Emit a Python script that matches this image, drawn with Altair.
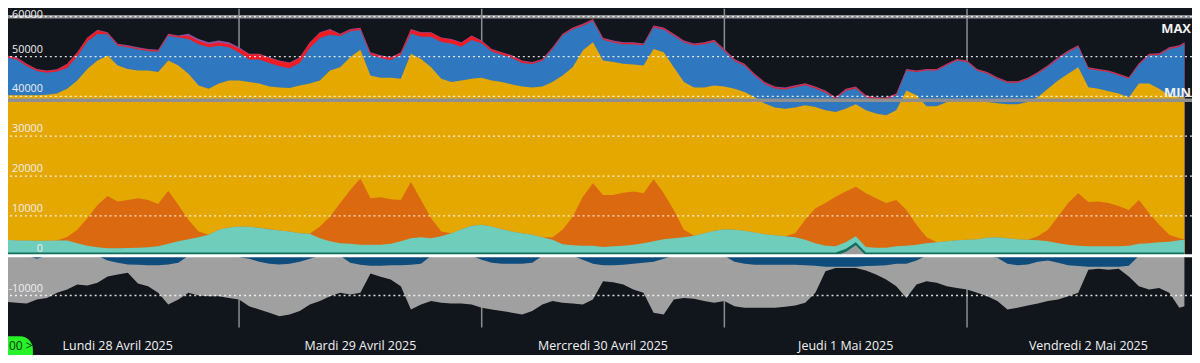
import altair as alt
import pandas as pd

# ---------------- data (MW), hourly from 28 Apr 01:00 to 2 May 21:00, plus 21:30 ----------------
times = [t.strftime("%Y-%m-%dT%H:%M:%S") for t in
         pd.date_range("2025-04-28 01:00", "2025-05-02 21:00", freq="h")] + ["2025-05-02T21:30:00"]

# overall top of the positive stack
top = [50300, 49800, 48200, 46900, 46500, 46800, 48200, 51100, 54800, 56700, 56100, 53200, 52800, 52300, 51900,
       51700, 55700, 55300, 55700, 54400, 53600, 54000, 53600, 52300, 50700, 50700, 49800, 49000, 48500,
       49800, 53600, 56100, 56900, 55700, 56900, 57200, 51100, 50300, 49800, 51100, 56900, 56100, 56100, 54800,
       54400, 53600, 55300, 54000, 51900, 51100, 50300, 49000, 48600, 49400, 52300, 55700, 57300, 58200, 59400,
       54700, 54000, 53600, 53600, 53300, 57800, 57300, 55700, 54000, 53300, 53600, 54200, 51900, 49400, 48200,
       45700, 43600, 42500, 42200, 42800, 43300, 42500, 41500, 39800, 41900, 42500, 40300, 39800, 39700, 40700,
       46900, 46500, 46900, 46900, 48200, 49400, 49000, 46900, 46100, 44800, 43800, 43800, 44700, 46100, 47800,
       49800, 51500, 52800, 47300, 46900, 46500, 45700, 44800, 48300, 50700, 50800, 52300, 52800, 53600]
# thickness of the red and purple bands at the top
red = [400, 400, 400, 400, 400, 400, 900, 900, 900, 900, 300, 300, 300, 300, 300, 300, 300, 300, 800, 800,
       800, 800, 800, 1000, 1300, 1300, 1300, 1300, 1300,
       1300, 1300, 1300, 1300, 400, 400, 400, 500, 500, 500, 500, 1000, 1000, 1000, 1000, 1000, 1000, 1000,
       500, 500, 500, 500, 500, 300, 300, 300, 300, 300, 300, 300,
       300, 300, 300, 300, 300, 300, 300, 300, 300, 300, 300, 300, 300, 300, 300, 300, 300, 300, 300, 300,
       300, 300, 300, 300, 300, 300, 300, 300, 300, 300,
       250, 250, 250, 250, 250, 250, 250, 250, 250, 250, 250, 250, 250, 250, 250, 250, 250, 250, 250, 250,
       250, 250, 250, 250, 250, 250, 250, 250, 250]
purple = [150, 150, 150, 150, 150, 150, 150, 150, 150, 150, 200, 200, 200, 200, 200, 200, 200, 200, 500, 500,
          500, 500, 500, 300, 150, 150, 150, 150, 150,
          150, 150, 150, 150, 150, 150, 150, 150, 150, 150, 150, 150, 150, 150, 150, 150, 150, 150, 150, 150,
          150, 150, 150, 150, 150, 150, 150, 150, 150, 150,
          200, 200, 200, 200, 200, 200, 200, 200, 200, 200, 200, 200, 200, 200, 200, 200, 200, 200, 200, 200,
          200, 200, 200, 200, 200, 200, 200, 200, 200, 200,
          150, 150, 150, 150, 150, 150, 150, 150, 150, 150, 150, 150, 150, 150, 150, 150, 150, 150, 150, 150,
          150, 150, 150, 150, 150, 150, 150, 150, 150]
# top of the yellow band
yellow = [40250, 40250, 40250, 40250, 40400, 40700, 41900, 44000, 46900, 49000, 50250, 47750, 46900, 46500,
          46500, 46100, 49000, 47750, 45700, 42750, 41900, 43200, 44000, 44000, 43600, 43200, 42500, 42200, 42100,
          42750, 43200, 44000, 46500, 47300, 49800, 51700, 45250, 44700, 44700, 44400, 50700, 49400, 47300,
          44400, 43600, 44000, 44400, 44700, 44000, 43600, 43000, 42500, 42200, 42500, 43600, 45250, 47300,
          51500, 53600,
          49000, 48600, 48200, 48000, 47750, 51900, 51100, 47300, 43600, 42200, 42200, 42750, 42500, 41900,
          41100, 39800, 38200, 37200, 36900, 37200, 37750, 37300, 36500, 36100, 36900, 38000, 36500, 35700,
          35250, 36500,
          41500, 40250, 37500, 37500, 38600, 39000, 39400, 39000, 38600, 38300, 38000, 38000, 38600, 39800,
          41900, 44000, 45700, 47300, 42300, 41900, 41300, 40700, 39700, 43200, 43200, 41900, 40250, 39700, 39800]
# top of the orange band
orange = [4000, 3800, 3800, 3750, 3750, 3800, 4700, 6500, 9400, 12750, 15000, 13600, 14000, 14400, 14000,
          13000, 16300, 12750, 9000, 6100, 5250, 6500, 7100, 7300, 7250, 7000, 6700, 6300, 6100,
          5650, 5500, 7300, 9800, 13200, 16500, 19400, 14400, 14700, 14200, 14000, 18500, 14000, 9400, 6100,
          5650, 6650, 7500, 7750, 7300, 6650, 6100, 5650, 5250, 4650, 4650, 6500, 9800, 14800, 18200,
          15250, 15250, 15800, 16100, 15700, 19200, 15700, 11500, 6500, 5000, 5650, 6250, 6650, 6500, 6250,
          5850, 5400, 5100, 4850, 5650, 9000, 11900, 13200, 14800, 16100, 17300, 15700, 14400, 13200, 14000,
          11500, 7750, 4650, 3350, 3600, 3850, 4000, 4150, 4500, 4650, 4400, 4150, 4000, 4850, 6500, 9800,
          13200, 15700, 13500, 13600, 13200, 12500, 11500, 14000, 10700, 7750, 5250, 4400, 4150]
# top of the teal band
teal = [4000, 3800, 3800, 3750, 3750, 3800, 3800, 3150, 2500, 2100, 1850, 1850, 1900, 2000, 2100, 2350, 3000,
        3600, 4150, 4650, 5250, 6500, 7100, 7300, 7250, 7000, 6650, 6300, 6100,
        5650, 5500, 4400, 3600, 3150, 3000, 2750, 2750, 2750, 3000, 3600, 4400, 4600, 4400, 4850, 5650, 6650,
        7500, 7750, 7300, 6650, 6100, 5650, 5250, 4650, 4000, 2900, 2600, 2500, 2500,
        2150, 2350, 2500, 2750, 3150, 3600, 4150, 4350, 4600, 5000, 5650, 6250, 6650, 6500, 6250, 5850, 5400,
        5100, 4850, 4600, 4000, 3150, 2500, 2350, 3350, 4850, 2150, 2000, 2000, 2350,
        2500, 2750, 3150, 3350, 3600, 3850, 4000, 4150, 4500, 4650, 4400, 4150, 4000, 3850, 3600, 3150, 2750,
        2500, 2350, 2350, 2350, 2350, 2500, 3000, 3150, 3350, 3500, 3850, 4000]
# thin dark green band at the bottom and the small grey spike under it
dkgreen = [800] * 118
graypos = [0] * 83 + [900, 2600] + [0] * 33
# negative side
dkblue = [0, 0, 0, 800, 0, 0, 0, 0, 0, 0, 1200, 1800, 2200, 2300, 2400, 2400, 2200, 1800, 0, 0, 0, 0, 0, 300,
          800, 1500, 2000, 2200, 2000,
          1500, 800, 0, 0, 0, 1800, 2300, 2500, 2500, 2400, 2400, 2300, 2000, 0, 0, 0, 0, 0, 1000, 1800, 2000,
          2000, 2000, 1800, 0, 0, 0, 0, 1000, 2000,
          2400, 2400, 2300, 2000, 1800, 1500, 800, 0, 0, 0, 0, 0, 0, 1500, 2000, 2300, 2300, 2300, 2300, 2300,
          2400, 2500, 2800, 2800, 2800, 2800, 2600, 2500, 2400, 2000,
          2000, 1200, 0, 0, 0, 0, 0, 0, 0, 500, 2000, 2400, 2200, 1500, 1200, 1800, 2400, 2600, 2800, 2800,
          2800, 2800, 2500, 0, 0, 0, 0, 0, 0]
graybot = [-11600, -11800, -12000, -11000, -10600, -9300, -8500, -7250, -7500, -6800, -5200, -4750, -4300,
           -7000, -7700, -9300, -12250, -11000, -9300, -10000, -10200, -10200, -10600, -11000, -12700, -13500,
           -14300, -15200, -14750,
           -13900, -12250, -11400, -10200, -9300, -9750, -9300, -4500, -5300, -6000, -7700, -13500, -12250,
           -11400, -11800, -12000, -12000, -12250, -13100, -13500, -13900, -14300, -14750, -13900, -12250,
           -11400, -11800, -12000, -12250, -11000,
           -6400, -6700, -7250, -8500, -9300, -14300, -14750, -11000, -10600, -10800, -11400, -11800, -11400,
           -12700, -13100, -13100, -13100, -13100, -12800, -12500, -11800, -9300, -3900, -3100, -3100, -3100,
           -3700, -4750, -6000, -7700,
           -10600, -7250, -6400, -6800, -7700, -8100, -8500, -9300, -10200, -11400, -13500, -13100, -12500,
           -12000, -11400, -11000, -10200, -9300, -3500, -3300, -3500, -3300, -5200, -7700, -8500, -8100,
           -9300, -13100, -12700]

ticks = [60000, 50000, 40000, 30000, 20000, 10000, -10000]
tick_labels = ["50000", "40000", "30000", "20000", "10000", "0", "-10000"]
tick_label_values = [50000, 40000, 30000, 20000, 10000, 0, -10000]
top_label = "60000"
top_label_value = 60000
limits = {"MAX": 60000, "MIN": 39000}
midnights = ["2025-04-29T00:00:00", "2025-04-30T00:00:00", "2025-05-01T00:00:00", "2025-05-02T00:00:00"]
day_noons = ["2025-04-28T12:00:00", "2025-04-29T12:00:00", "2025-04-30T12:00:00",
             "2025-05-01T12:00:00", "2025-05-02T12:00:00"]
day_labels = ["Lundi 28 Avril 2025", "Mardi 29 Avril 2025", "Mercredi 30 Avril 2025",
              "Jeudi 1 Mai 2025", "Vendredi 2 Mai 2025"]

n = len(times)
for arr in [top, red, purple, yellow, orange, teal, dkgreen, graypos, dkblue, graybot]:
    assert len(arr) == n, (len(arr), n)

df = pd.DataFrame({"t": times, "top": top, "red": red, "purple": purple, "yellow": yellow,
                   "orange": orange, "teal": teal, "dg": dkgreen, "gp": graypos,
                   "dkb": dkblue, "gray": graybot})
df["z"] = 0
df["red_top"] = df["top"] - df["purple"]
df["blue_top"] = df["top"] - df["purple"] - df["red"]
df["dg_top"] = df["gp"] + df["dg"]
df["dkb_bot"] = -df["dkb"]

W, H = 1189, 320
BG = "#11161c"
xs = alt.Scale(domain=[alt.DateTime(year=2025, month=4, date=28, hours=1, minutes=9),
                       alt.DateTime(year=2025, month=5, date=2, hours=22, minutes=15)])
ys = alt.Scale(domain=[-18000, 62000], nice=False, zero=False)
FONT = "Open Sans"

base = alt.Chart(df)


def band(col, color):
    return base.mark_area(color=color, clip=True, interpolate="linear").encode(
        x=alt.X("t:T", scale=xs, axis=None),
        y=alt.Y(f"{col}:Q", scale=ys, axis=None),
        y2="z:Q",
    )


vlines = alt.Chart(pd.DataFrame({"t": midnights})).mark_rule(color="#8a8f95", strokeWidth=1.5).encode(
    x=alt.X("t:T", scale=xs, axis=None), y=alt.value(0), y2=alt.value(H))

areas = [
    band("top", "#8e4f9c"),
    band("red_top", "#ee1c25"),
    band("blue_top", "#2f78bf"),
    band("yellow", "#e5a800"),
    band("orange", "#db690f"),
    band("teal", "#6fcdbb"),
    band("dg_top", "#136f5d"),
    band("gp", "#9c9c9c"),
    band("gray", "#a0a0a0"),
    band("dkb_bot", "#0e4c7c"),
]

lim_df = pd.DataFrame({"name": list(limits.keys()), "v": list(limits.values())})
limit_rules = alt.Chart(lim_df).mark_rule(color="#8f8f8f", strokeWidth=3.5).encode(
    y=alt.Y("v:Q", scale=ys, axis=None))

grid = alt.Chart(pd.DataFrame({"v": ticks})).mark_rule(
    color="#ffffff", strokeWidth=1.3, strokeDash=[2, 3], opacity=0.85).encode(
    y=alt.Y("v:Q", scale=ys, axis=None))

zero = alt.Chart(pd.DataFrame({"v": [0]})).mark_rule(color="#ffffff", strokeWidth=3).encode(
    y=alt.Y("v:Q", scale=ys, axis=None))

ylabels = alt.Chart(pd.DataFrame({"v": tick_label_values, "lab": tick_labels})).mark_text(
    align="right", baseline="alphabetic", dy=-4, fontSize=10.8, font=FONT, color="#f0f0f0").encode(
    x=alt.value(35), y=alt.Y("v:Q", scale=ys, axis=None), text="lab:N")
ylabel_top = alt.Chart(pd.DataFrame({"v": [top_label_value], "lab": [top_label]})).mark_text(
    align="right", baseline="top", dy=-7.5, fontSize=10.8, font=FONT, color="#f0f0f0").encode(
    x=alt.value(35), y=alt.Y("v:Q", scale=ys, axis=None), text="lab:N")

max_txt = alt.Chart(lim_df[lim_df["name"] == "MAX"]).mark_text(
    align="right", baseline="alphabetic", dy=16, fontSize=13, fontWeight="bold", font=FONT,
    color="#f2f2f2").encode(x=alt.value(W - 1), y=alt.Y("v:Q", scale=ys, axis=None), text="name:N")
min_txt = alt.Chart(lim_df[lim_df["name"] == "MIN"]).mark_text(
    align="right", baseline="alphabetic", dy=-3, fontSize=13, fontWeight="bold", font=FONT,
    color="#f2f2f2").encode(x=alt.value(W - 1), y=alt.Y("v:Q", scale=ys, axis=None), text="name:N")

days = alt.Chart(pd.DataFrame({"t": day_noons, "lab": day_labels})).mark_text(
    align="center", baseline="alphabetic", fontSize=12.5, font=FONT, color="#f2f2f2").encode(
    x=alt.X("t:T", scale=xs, axis=None), y=alt.value(H + 23), text="lab:N")

pill = alt.Chart(pd.DataFrame({"lab": ["00 >"]})).mark_rect(color="#27f227", cornerRadius=13).encode(
    x=alt.value(-22), x2=alt.value(25), y=alt.value(H + 9), y2=alt.value(H + 40))
pill_txt = alt.Chart(pd.DataFrame({"lab": ["00 >"]})).mark_text(
    align="left", baseline="middle", fontSize=12, font=FONT, color="#173317").encode(
    x=alt.value(1), y=alt.value(H + 19), text="lab:N")

chart = alt.layer(vlines, *areas, limit_rules, grid, zero, ylabels, ylabel_top, max_txt, min_txt, days,
                  pill, pill_txt).properties(
    width=W, height=H, autosize=alt.AutoSizeParams(type="none"),
    padding={"left": 0, "top": 0, "right": 0, "bottom": 27},
).configure(background=BG).configure_view(stroke=None)

chart.save("out.html", embed_options={"renderer": "svg", "actions": False})
